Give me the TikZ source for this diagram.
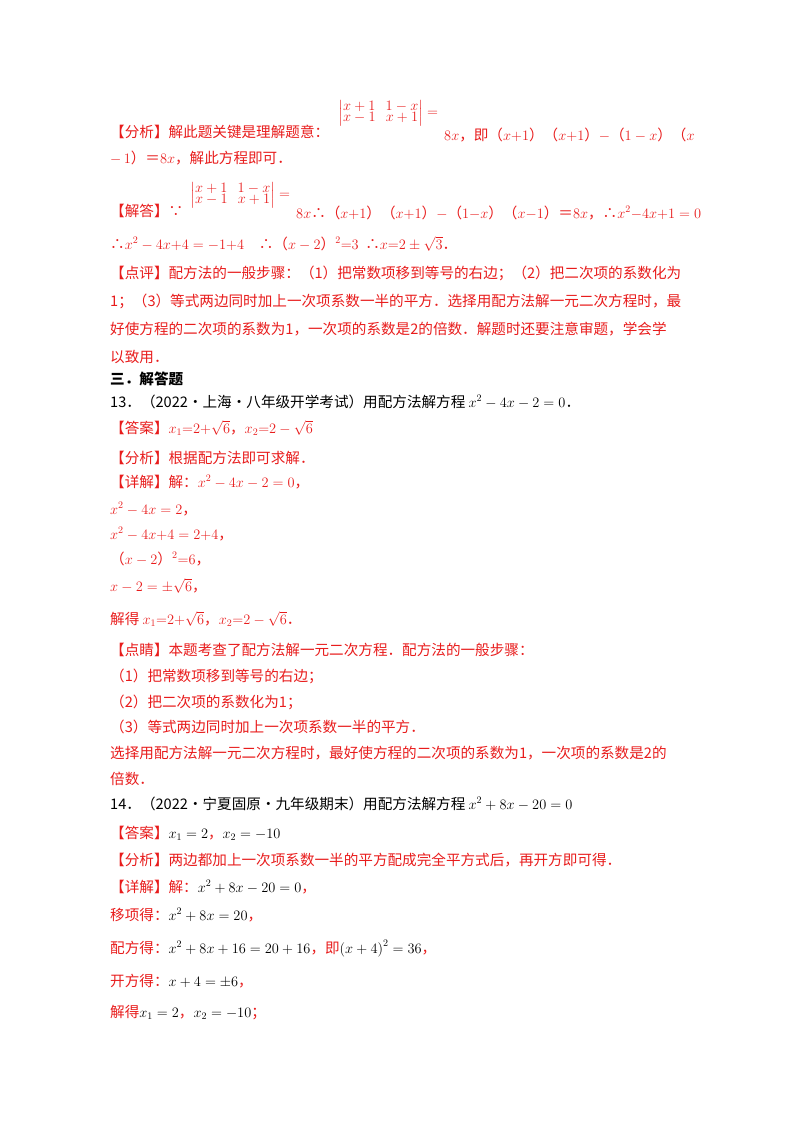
\documentclass[tikz,border=0pt]{standalone}
\usepackage{fontspec}
\setmainfont{Noto Sans CJK SC}
\usepackage{amsmath}
\definecolor{rd}{RGB}{232,28,28}
\begin{document}
\begin{tikzpicture}[x=1pt,y=1pt,
  ln/.style={anchor=base west,inner sep=0pt,font=\fontsize{14.6}{17}\selectfont},
  r/.style={ln,text=rd},
  k/.style={ln,text=black},
  det/.style={anchor=west,inner sep=0pt,text=rd,font=\fontsize{13.5}{14}\selectfont}]
\useasboundingbox (0,0) rectangle (800,-1132);
% block 1
\node[r] (a1) at (110,-137) {【分析】解此题关键是理解题意：};
\node[det] (d1) at (338,-113) {$\left|\begin{matrix}x+1 & 1-x\\[-3pt] x-1 & x+1\end{matrix}\right|=$};
\node[r] (a1b) at (444,-140) {$8x$，即（$x{+}1$）（$x{+}1$）$-$（$1-x$）（$x$};
\node[r] (a2) at (110,-163) {$-\,1$）＝$8x$，解此方程即可．};
\node[r] (b1) at (110,-216) {【解答】∵};
\node[det] (d2) at (190,-195) {$\left|\begin{matrix}x+1 & 1-x\\[-3pt] x-1 & x+1\end{matrix}\right|=$};
\node[r] (b1b) at (296,-218) {$8x$∴（$x{+}1$）（$x{+}1$）$-$（$1{-}x$）（$x{-}1$）＝$8x$，∴$x^2{-}4x{+}1=0$};
\node[r] (b2) at (110,-249) {∴$x^2-4x{+}4=-1{+}4$\quad ∴（$x-2$）$^2{=}3$ \ ∴$x{=}2\pm\sqrt{3}$．};
\node[r] (c1) at (110,-278) {【点评】配方法的一般步骤：（1）把常数项移到等号的右边；（2）把二次项的系数化为};
\node[r] (c2) at (110,-306) {1；（3）等式两边同时加上一次项系数一半的平方．选择用配方法解一元二次方程时，最};
\node[r] (c3) at (110,-334) {好使方程的二次项的系数为1，一次项的系数是2的倍数．解题时还要注意审题，学会学};
\node[r] (c4) at (110,-362) {以致用．};
% section
\node[k,font=\fontsize{14.6}{17}\selectfont\bfseries] (s) at (110,-384) {三．解答题};
\node[k] (q13) at (110,-407) {13．（2022·上海·八年级开学考试）用配方法解方程 $x^2-4x-2=0$．};
\node[r] (e1) at (110,-433) {【答案】$x_1{=}2{+}\sqrt{6}$，$x_2{=}2-\sqrt{6}$};
\node[r] (e2) at (110,-463) {【分析】根据配方法即可求解．};
\node[r] (e3) at (110,-487) {【详解】解：$x^2-4x-2=0$，};
\node[r] (e4) at (110,-514) {$x^2-4x=2$，};
\node[r] (e5) at (110,-539) {$x^2-4x{+}4=2{+}4$，};
\node[r] (e6) at (110,-564) {（$x-2$）$^2{=}6$，};
\node[r] (e7) at (110,-591) {$x-2=\pm\sqrt{6}$，};
\node[r] (e8) at (110,-624) {解得 $x_1{=}2{+}\sqrt{6}$，$x_2{=}2-\sqrt{6}$．};
\node[r] (f1) at (110,-655) {【点睛】本题考查了配方法解一元二次方程．配方法的一般步骤：};
\node[r] (f2) at (110,-681) {（1）把常数项移到等号的右边；};
\node[r] (f3) at (110,-707) {（2）把二次项的系数化为1；};
\node[r] (f4) at (110,-732) {（3）等式两边同时加上一次项系数一半的平方．};
\node[r] (f5) at (110,-758) {选择用配方法解一元二次方程时，最好使方程的二次项的系数为1，一次项的系数是2的};
\node[r] (f6) at (110,-784) {倍数．};
% 14
\node[k] (q14) at (110,-809) {14．（2022·宁夏固原·九年级期末）用配方法解方程 $x^2+8x-20=0$};
\node[r] (g1) at (110,-838) {【答案】\textcolor{black}{$x_1=2$}，\textcolor{black}{$x_2=-10$}};
\node[r] (g2) at (110,-865) {【分析】两边都加上一次项系数一半的平方配成完全平方式后，再开方即可得．};
\node[r] (g3) at (110,-892) {【详解】解：\textcolor{black}{$x^2+8x-20=0$}，};
\node[r] (g4) at (110,-920) {移项得：\textcolor{black}{$x^2+8x=20$}，};
\node[r] (g5) at (110,-953) {配方得：\textcolor{black}{$x^2+8x+16=20+16$}，即\textcolor{black}{$\left(x+4\right)^2=36$}，};
\node[r] (g6) at (110,-986) {开方得：\textcolor{black}{$x+4=\pm6$}，};
\node[r] (g7) at (110,-1017) {解得\textcolor{black}{$x_1=2$}，\textcolor{black}{$x_2=-10$}；};
\end{tikzpicture}
\end{document}
